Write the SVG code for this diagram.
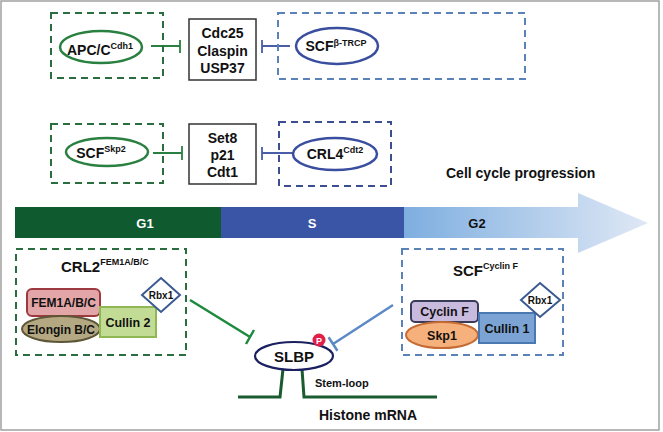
<svg xmlns="http://www.w3.org/2000/svg" width="663" height="432" viewBox="0 0 663 432">
<defs>
<linearGradient id="g2grad" x1="404" y1="0" x2="648" y2="0" gradientUnits="userSpaceOnUse">
<stop offset="0" stop-color="#7eaee0"/>
<stop offset="1" stop-color="#dfe8f5"/>
</linearGradient>
<style>
text{font-family:"Liberation Sans",Arial,sans-serif;font-weight:bold;fill:#111}
.gdash{fill:none;stroke:#2a6e40;stroke-width:2;stroke-dasharray:7,5}
.bdash{fill:none;stroke:#5a82b8;stroke-width:2;stroke-dasharray:7,5}
.ndash{fill:none;stroke:#3a4e90;stroke-width:2;stroke-dasharray:7,5}
.gell{fill:#fff;stroke:#2a8040;stroke-width:2.5}
.bell{fill:#fff;stroke:#3a4ea0;stroke-width:2.5}
.box{fill:#fff;stroke:#333;stroke-width:1.5}
.ginh{stroke:#2a8040;stroke-width:1.8;fill:none}
.binh{stroke:#4a5ea8;stroke-width:1.8;fill:none}
.t14{font-size:14px}
.sup{font-size:9px}
.diamond{fill:#fff;stroke:#3a5a90;stroke-width:2}
</style>
</defs>
<rect x="1" y="1" width="658" height="429" fill="#fff" stroke="#a0a0a0" stroke-width="1.5"/>

<g id="connectors">
<path class="ginh" d="M151,46 H180 M180,40 V53"/>
<path class="binh" d="M290,46 H262 M262,40 V53"/>
<path class="ginh" d="M153,153 H182 M182,146 V160"/>
<path class="binh" d="M293,153 H262 M262,147 V160"/>
<path d="M190,300 L250,337 M246,344 L254,330" stroke="#1e8a3c" stroke-width="2.5" fill="none"/>
<path d="M393,305 L333,344 M328.6,337.3 L337.4,350.7" stroke="#5b8ac6" stroke-width="2.5" fill="none"/>
</g>

<g id="apcc-box">
<rect class="gdash" x="51" y="13" width="112" height="65"/>
<ellipse class="gell" cx="101" cy="47" rx="41" ry="16"/>
<text class="t14" x="100" y="55" text-anchor="middle">APC/C<tspan class="sup" dy="-6">Cdh1</tspan></text>
</g>

<g id="cdc25-box">
<rect class="box" x="189" y="19" width="67" height="61"/>
<text class="t14" x="222.5" y="38" text-anchor="middle">Cdc25</text>
<text class="t14" x="222.5" y="56" text-anchor="middle">Claspin</text>
<text class="t14" x="222.5" y="73" text-anchor="middle">USP37</text>
</g>

<g id="scf-btrcp-box">
<rect class="bdash" x="278" y="13" width="247" height="66"/>
<ellipse class="bell" cx="337" cy="46" rx="41" ry="18"/>
<text class="t14" x="336" y="51" text-anchor="middle">SCF<tspan class="sup" dy="-5">β-TRCP</tspan></text>
</g>

<g id="scf-skp2-box">
<rect class="gdash" x="51" y="124" width="112" height="59"/>
<ellipse class="gell" cx="107" cy="152" rx="41" ry="14"/>
<text class="t14" x="101" y="158" text-anchor="middle">SCF<tspan class="sup" dy="-6">Skp2</tspan></text>
</g>

<g id="set8-box">
<rect class="box" x="189" y="124" width="67" height="60"/>
<text class="t14" x="222.5" y="143" text-anchor="middle">Set8</text>
<text class="t14" x="222.5" y="160" text-anchor="middle">p21</text>
<text class="t14" x="222.5" y="177" text-anchor="middle">Cdt1</text>
</g>

<g id="crl4-box">
<rect class="ndash" x="279" y="122" width="112" height="64"/>
<ellipse class="bell" cx="335" cy="154" rx="42" ry="16"/>
<text class="t14" x="335" y="159" text-anchor="middle">CRL4<tspan class="sup" dy="-6">Cdt2</tspan></text>
</g>

<g id="cell-cycle-arrow">
<text x="446" y="178" font-size="14">Cell cycle progression</text>
<rect x="15" y="207" width="206" height="31" fill="#0f5a2e"/>
<rect x="221" y="207" width="183" height="31" fill="#3a55a5"/>
<path d="M404,207 H578 V193 L648,223 L578,253 V238 H404 Z" fill="url(#g2grad)"/>
<text x="145" y="228" font-size="13" text-anchor="middle" style="fill:#fff">G1</text>
<text x="312" y="228" font-size="13" text-anchor="middle" style="fill:#fff">S</text>
<text x="477" y="228" font-size="13" text-anchor="middle">G2</text>
</g>

<g id="crl2-complex">
<rect class="gdash" x="16" y="249" width="170" height="106"/>
<text x="61" y="272" font-size="15">CRL2<tspan font-size="9" dy="-7">FEM1A/B/C</tspan></text>
<rect x="27" y="289" width="73" height="27" rx="5" fill="#e3a6a8" stroke="#9c3a40" stroke-width="2"/>
<text x="63.5" y="307" font-size="12" text-anchor="middle">FEM1A/B/C</text>
<ellipse cx="61" cy="329" rx="39" ry="13" fill="#b3a881" stroke="#5c5636" stroke-width="2"/>
<text x="61" y="333.5" font-size="12" text-anchor="middle">Elongin B/C</text>
<rect x="100" y="307" width="56" height="30" fill="#c3dc95" stroke="#8fb855" stroke-width="2"/>
<text x="128" y="326.5" font-size="12.5" text-anchor="middle">Cullin 2</text>
<path class="diamond" d="M161,278 L180,295 L161,312 L142,295 Z"/>
<text x="161" y="299" font-size="10" text-anchor="middle">Rbx1</text>
</g>

<g id="scf-cyclinf-complex">
<rect class="bdash" x="402" y="249" width="161" height="106"/>
<text x="453" y="276" font-size="15">SCF<tspan font-size="9" dy="-7">Cyclin F</tspan></text>
<rect x="411" y="301" width="67" height="21" rx="4" fill="#c9bbdd" stroke="#3a3a5a" stroke-width="2"/>
<text x="444.5" y="316" font-size="12.5" text-anchor="middle">Cyclin F</text>
<ellipse cx="442" cy="335" rx="36" ry="13" fill="#f6b07c" stroke="#c46c34" stroke-width="2"/>
<text x="442" y="340" font-size="12.5" text-anchor="middle">Skp1</text>
<rect x="479" y="313" width="56" height="30" fill="#7ba4d4" stroke="#4a78b0" stroke-width="2"/>
<text x="507" y="332.5" font-size="12.5" text-anchor="middle">Cullin 1</text>
<path class="diamond" d="M540,283 L560,300 L540,317 L521,300 Z"/>
<text x="540" y="304" font-size="10" text-anchor="middle">Rbx1</text>
</g>

<g id="histone-mrna">
<path d="M238,397 H280 L283,369 M302,369 L304,397 H437" fill="none" stroke="#1a5c30" stroke-width="3"/>
<text x="315" y="387" font-size="11">Stem-loop</text>
<text x="319" y="420" font-size="14">Histone mRNA</text>
</g>

<g id="slbp">
<ellipse cx="294" cy="356" rx="39" ry="14" fill="#fff" stroke="#1a2060" stroke-width="2.2"/>
<text x="294" y="361.5" font-size="15" text-anchor="middle">SLBP</text>
<circle cx="319" cy="340" r="6.5" fill="#e0204a"/>
<text x="319" y="343.5" font-size="9" text-anchor="middle" style="fill:#fff">P</text>
</g>
</svg>
